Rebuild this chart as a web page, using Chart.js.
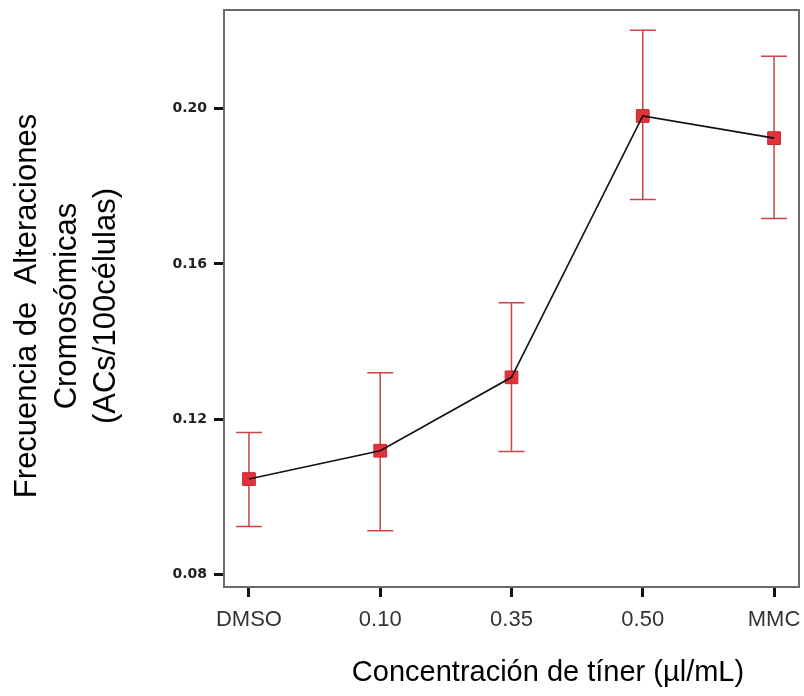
<!DOCTYPE html>
<html>
<head>
<meta charset="utf-8">
<script src="https://cdn.jsdelivr.net/npm/chart.js@4/dist/chart.umd.min.js"></script>
<style>
  html, body { margin: 0; padding: 0; background: #fff; }
  #wrap { width: 804px; height: 696px; }
</style>
</head>
<body>
<div id="wrap"><canvas id="chart" width="804" height="696"></canvas></div>
<script>
// ─── DATA ──────────────────────────────────
const categories = ['DMSO', '0.10', '0.35', '0.50', 'MMC'];
const means      = [0.1046, 0.1119, 0.1308, 0.1981, 0.1924];
const upperCI    = [0.1166, 0.1320, 0.1500, 0.2202, 0.2135];
const lowerCI    = [0.0924, 0.0913, 0.1117, 0.1766, 0.1717];
const yTicks     = [0.08, 0.12, 0.16, 0.20];

const yTitle = ['Frecuencia de  Alteraciones', 'Cromosómicas', '(ACs/100células)'];
const xTitle = 'Concentración de tíner (µl/mL)';

const points = means.map((v, i) => ({ x: i, y: v }));

// frame round the plot area + error bars, under the marks
const framePlugin = {
  id: 'frame',
  beforeDatasetsDraw(chart) {
    const { ctx, chartArea: a, scales: { x, y } } = chart;
    ctx.save();
    ctx.strokeStyle = '#6a6a6a';
    ctx.lineWidth = 2;
    ctx.strokeRect(a.left, a.top, a.right - a.left, a.bottom - a.top);

    ctx.strokeStyle = '#cc4444';
    ctx.lineWidth = 1.5;
    categories.forEach((c, i) => {
      const px = x.getPixelForValue(i);
      const hi = y.getPixelForValue(upperCI[i]);
      const lo = y.getPixelForValue(lowerCI[i]);
      ctx.beginPath();
      ctx.moveTo(px, hi); ctx.lineTo(px, lo);
      ctx.moveTo(px - 13, hi); ctx.lineTo(px + 13, hi);
      ctx.moveTo(px - 13, lo); ctx.lineTo(px + 13, lo);
      ctx.stroke();
    });
    ctx.restore();
  }
};

// axis titles (x title sits right of the plot centre in the original)
const titlesPlugin = {
  id: 'axisTitles',
  afterDraw(chart) {
    const ctx = chart.ctx;
    ctx.save();
    ctx.fillStyle = '#000';
    ctx.textAlign = 'center';
    ctx.textBaseline = 'alphabetic';

    ctx.font = '29px Arial, "Liberation Sans", sans-serif';
    ctx.fillText(xTitle, 548, 681);

    ctx.font = '31px Arial, "Liberation Sans", sans-serif';
    ctx.translate(36, 306);
    ctx.rotate(-Math.PI / 2);
    yTitle.forEach((line, i) => ctx.fillText(line, 0, i * 39.5));
    ctx.restore();
  }
};

const noPad = s => { s.paddingTop = 0; s.paddingBottom = 0; s.paddingLeft = 0; s.paddingRight = 0; };

new Chart(document.getElementById('chart').getContext('2d'), {
  type: 'line',
  data: {
    datasets: [
      {
        data: points,
        borderColor: '#111',
        borderWidth: 1.6,
        pointRadius: 0,
        fill: false,
        tension: 0,
        order: 0,
      },
      {
        data: points,
        showLine: false,
        pointStyle: 'rect',
        pointRadius: 9,
        pointBackgroundColor: '#e2323b',
        pointBorderColor: '#c42830',
        pointBorderWidth: 1,
        order: 1,
      }
    ]
  },
  options: {
    responsive: false,
    animation: false,
    layout: { autoPadding: false, padding: { top: 10, right: 5, left: 0, bottom: 0 } },
    plugins: { legend: { display: false }, tooltip: { enabled: false } },
    scales: {
      x: {
        type: 'linear',
        min: -0.19,
        max: 4.19,
        afterFit: s => { s.height = 109; noPad(s); },
        afterBuildTicks: s => { s.ticks = categories.map((c, i) => ({ value: i })); },
        border: { display: false },
        grid: { drawOnChartArea: false, drawTicks: true, tickLength: 10, tickWidth: 3, tickColor: '#111' },
        ticks: {
          padding: 10,
          color: '#333',
          font: { family: 'Arial', size: 22 },
          maxRotation: 0,
          callback: v => categories[v],
        }
      },
      y: {
        min: 0.0768,
        max: 0.2254,
        afterFit: s => { s.width = 224; noPad(s); },
        afterBuildTicks: s => { s.ticks = yTicks.map(v => ({ value: v })); },
        border: { display: false },
        grid: { drawOnChartArea: false, drawTicks: true, tickLength: 10, tickWidth: 3, tickColor: '#111' },
        ticks: {
          padding: 7,
          color: '#222',
          font: { family: 'DejaVu Sans', size: 14, weight: 'bold' },
          callback: v => v.toFixed(2),
        }
      }
    }
  },
  plugins: [framePlugin, titlesPlugin]
});
</script>
</body>
</html>
